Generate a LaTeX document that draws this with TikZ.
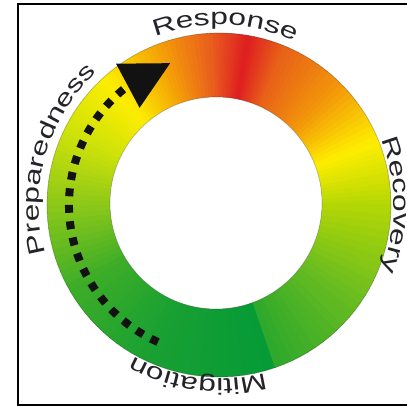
\documentclass[tikz,border=0pt]{standalone}
\usepackage{fontspec}
\usetikzlibrary{arrows.meta,bending,decorations.text}
\newfontfamily\ringfont[FakeStretch=1.38]{Liberation Sans}
\newcommand\labelfont{\ringfont\fontsize{23}{23}\selectfont}
\definecolor{labelgray}{RGB}{35,35,40}
\definecolor{dotblack}{RGB}{18,18,18}
\definecolor{k00}{RGB}{180,215,5}
\definecolor{k01}{RGB}{255,238,0}
\definecolor{k02}{RGB}{242,150,10}
\definecolor{k03}{RGB}{232,95,25}
\definecolor{k04}{RGB}{222,30,32}
\definecolor{k05}{RGB}{232,90,30}
\definecolor{k06}{RGB}{245,165,5}
\definecolor{k07}{RGB}{252,238,0}
\definecolor{k08}{RGB}{205,225,10}
\definecolor{k09}{RGB}{140,200,25}
\definecolor{k10}{RGB}{60,172,40}
\definecolor{k11}{RGB}{25,160,50}
\definecolor{k12}{RGB}{5,155,55}
\definecolor{k13}{RGB}{45,168,45}
\definecolor{k14}{RGB}{105,188,32}
\tikzset{
  ring label/.style={decorate, decoration={text along path, text align=center, text color=labelgray}},
  dotted arrow/.style={dotblack, line width=8pt, dash pattern=on 8pt off 8.5pt,
    -{Triangle[length=48pt,width=50pt,line width=0pt]}},
  rim/.style={black, opacity=0.25, line width=0.7pt}
}
\begin{document}
\begin{tikzpicture}[x=1pt,y=1pt]
  \clip (-219,-201) rectangle (188,205);
  % colour wheel
  \foreach \a/\b/\ca/\cb in {0/22/k00/k01, 22/45/k01/k02, 45/68/k02/k03, 68/80/k03/k04,
      80/92/k04/k05, 92/112/k05/k06, 112/132/k06/k07, 132/155/k07/k08, 155/180/k08/k09,
      180/210/k09/k10, 210/245/k10/k11, 245/289/k11/k12, 289/325/k13/k14, 325/360/k14/k00} {
    \foreach \i in {0,...,11} {
      \pgfmathsetmacro\s{\a+(\b-\a)*\i/12}
      \pgfmathsetmacro\e{\a+(\b-\a)*(\i+1)/12+0.5}
      \pgfmathtruncatemacro\p{100*(\i+0.5)/12}
      \fill[fill=\cb!\p!\ca] (0,0) -- (\s:172) arc[start angle=\s, end angle=\e, radius=172] -- cycle;
    }
  }
  \fill[white] (-3,2) circle (106);
  \draw[rim] (0,0) circle (172);
  \draw[rim] (-3,2) circle (106);

  \foreach \word/\angle/\rad in {Response/88/180, Preparedness/164/180, Recovery/0/175, Mitigation/263/174} {
    \path[ring label, decoration={text/.expanded={|\noexpand\labelfont|\word}}]
      (\angle+60:\rad) arc[start angle=\angle+60, end angle=\angle-60, radius=\rad];
  }

  \draw[dotted arrow] (246:150) arc[start angle=246, end angle=109, radius=150];

  \draw[line width=1.6pt] (-201,-200) rectangle (200,201);
\end{tikzpicture}
\end{document}
